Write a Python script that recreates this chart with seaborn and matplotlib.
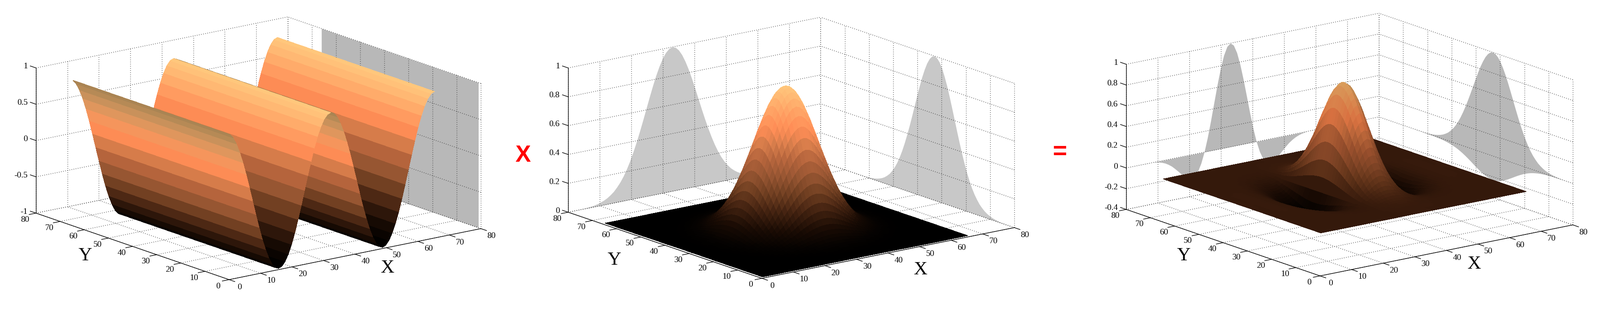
import numpy as np
import matplotlib
matplotlib.use("Agg")
import matplotlib.pyplot as plt
import seaborn as sns
from mpl_toolkits.mplot3d import proj3d

W, H = 3648, 705

# profiles, 64 samples spread over X (or Y) = 1..66
grid_pos = np.linspace(1, 66, 64)
wave_profile = np.array([
    0.981, 0.924, 0.831, 0.707, 0.556, 0.383, 0.195, 0.0,
    -0.195, -0.383, -0.556, -0.707, -0.831, -0.924, -0.981, -1.0,
    -0.981, -0.924, -0.831, -0.707, -0.556, -0.383, -0.195, 0.0,
    0.195, 0.383, 0.556, 0.707, 0.831, 0.924, 0.981, 1.0,
    0.981, 0.924, 0.831, 0.707, 0.556, 0.383, 0.195, 0.0,
    -0.195, -0.383, -0.556, -0.707, -0.831, -0.924, -0.981, -1.0,
    -0.981, -0.924, -0.831, -0.707, -0.556, -0.383, -0.195, 0.0,
    0.195, 0.383, 0.556, 0.707, 0.831, 0.924, 0.981, 1.0,
])
bump_profile = np.array([
    0.001, 0.001, 0.001, 0.002, 0.003, 0.005, 0.008, 0.011,
    0.016, 0.023, 0.032, 0.044, 0.060, 0.079, 0.105, 0.135,
    0.172, 0.216, 0.267, 0.325, 0.389, 0.458, 0.531, 0.607,
    0.682, 0.755, 0.823, 0.882, 0.932, 0.969, 0.992, 1.0,
    0.992, 0.969, 0.932, 0.882, 0.823, 0.755, 0.682, 0.607,
    0.531, 0.458, 0.389, 0.325, 0.267, 0.216, 0.172, 0.135,
    0.105, 0.079, 0.060, 0.044, 0.032, 0.023, 0.016, 0.011,
    0.008, 0.005, 0.003, 0.002, 0.001, 0.001, 0.001, 0.0,
])

xy_ticks = [0, 10, 20, 30, 40, 50, 60, 70, 80]
z_ticks_wave = [-1, -0.5, 0, 0.5, 1]
z_labels_wave = ["-1", "-0.5", "0", "0.5", "1"]
z_ticks_bump = [0, 0.2, 0.4, 0.6, 0.8, 1]
z_labels_bump = ["0", "0.2", "0.4", "0.6", "0.8", "1"]
z_ticks_prod = [-0.4, -0.2, 0, 0.2, 0.4, 0.6, 0.8, 1]
z_labels_prod = ["-0.4", "-0.2", "0", "0.2", "0.4", "0.6", "0.8", "1"]

# copper-like colours picked from the bands of the first surface
band_colors = ["#000000", "#1b0c04", "#442311", "#703f21", "#965532", "#b4643c",
               "#d77d4b", "#ff8d56", "#ff9f62", "#ffb571", "#ffc87d"]

sns.set_theme(style="white")
plt.rcParams["font.family"] = ["Liberation Serif", "DejaVu Serif"]
surface_cmap = sns.blend_palette(band_colors, as_cmap=True)

fig = plt.figure(figsize=(W / 100, H / 100), dpi=100)


def surface_colors(Z, mode):
    t = (Z - Z.min()) / (Z.max() - Z.min())
    rgba = surface_cmap(t)
    dzdx = np.diff(Z, axis=1, append=Z[:, -1:])
    if mode == "wave":
        # falling side of each ridge is duller only near the top
        shade = 1 - 0.35 * np.clip((t - 0.72) / 0.28, 0, 1) ** 1.4 * (dzdx < 0)
        rgba[..., :3] *= shade[..., None]
    elif mode == "prod":
        shade = np.clip(1 - 4.0 * np.clip(-dzdx, 0, None), 0.4, 1)
        rgba[..., :3] *= shade[..., None] * np.array([0.85, 0.8, 0.75])
    return rgba


def place_axes(ax, front, left, right, top, zlim):
    # stretch the 3d box so its corners land on the wanted pixels
    M = ax.get_proj()
    z0, z1 = zlim
    fx, fy, _ = proj3d.proj_transform(0, 0, z0, M)
    lx, ly, _ = proj3d.proj_transform(0, 80, z0, M)
    rx, ry, _ = proj3d.proj_transform(80, 0, z0, M)
    tx, ty, _ = proj3d.proj_transform(0, 80, z1, M)
    vl, vr = ax.viewLim.intervalx
    vb, vt = ax.viewLim.intervaly
    width = (right[0] - left[0]) / (rx - lx) * (vr - vl)
    x0 = left[0] - width * (lx - vl) / (vr - vl)
    height = ((H - top[1]) - (H - front[1])) / (ty - fy) * (vt - vb)
    y0 = (H - front[1]) - height * (fy - vb) / (vt - vb)
    ax.set_position([x0 / W, y0 / H, width / W, height / H])


def tick_text(ax, x, y, z, label, dx, dy, ha="center"):
    # tick labels sit a fixed number of pixels away from the projected tick
    vx, vy, _ = proj3d.proj_transform(x, y, z, ax.get_proj())
    px, py = ax.transData.transform((vx, vy))
    fig.text((px + dx) / W, (py + dy) / H, label, ha=ha, va="center",
             fontsize=14, color="black")


def draw_panel(Z, mode, zlim, zticks, zlabels, wall_color, left_wall,
               front, left, right, top, x_pos, y_pos):
    ax = fig.add_axes([0, 0, 1, 1], projection="3d", computed_zorder=False)
    ax.apply_aspect = lambda position=None: None
    ax.set_proj_type("ortho")
    ax.view_init(elev=30, azim=-127.5)
    ax.set_box_aspect((1, 1, 1))
    ax.set_xlim(0, 80, view_margin=0)
    ax.set_ylim(0, 80, view_margin=0)
    ax.set_zlim(zlim[0], zlim[1], view_margin=0)
    ax.set_axis_off()
    ax.patch.set_visible(False)
    place_axes(ax, front, left, right, top, zlim)

    z0, z1 = zlim

    # shadows on the back walls
    ax.fill_between(80, grid_pos, Z.max(axis=1), 80, grid_pos, Z.min(axis=1),
                    mode="polygon", facecolors=wall_color, shade=False,
                    linewidths=0, zorder=1)
    if left_wall:
        ax.fill_between(grid_pos, 80, Z.max(axis=0), grid_pos, 80, Z.min(axis=0),
                        mode="polygon", facecolors=wall_color, shade=False,
                        linewidths=0, zorder=1)

    # dotted box grid
    grid_kw = dict(color="#3c3c3c", lw=1.0, ls=(0, (1, 2.5)), zorder=2)
    for v in xy_ticks:
        ax.plot([v, v], [0, 80], [z0, z0], **grid_kw)
        ax.plot([0, 80], [v, v], [z0, z0], **grid_kw)
        ax.plot([v, v], [80, 80], [z0, z1], **grid_kw)
        ax.plot([80, 80], [v, v], [z0, z1], **grid_kw)
    for v in zticks:
        ax.plot([0, 80], [80, 80], [v, v], **grid_kw)
        ax.plot([80, 80], [0, 80], [v, v], **grid_kw)

    X, Y = np.meshgrid(grid_pos, grid_pos)
    ax.plot_surface(X, Y, Z, rstride=1, cstride=1, facecolors=surface_colors(Z, mode),
                    shade=False, antialiased=False, linewidth=0.2, zorder=3)

    # solid axes, ticks and labels
    line_kw = dict(color="black", lw=1.0, zorder=4)
    ax.plot([0, 80], [0, 0], [z0, z0], **line_kw)
    ax.plot([0, 0], [0, 80], [z0, z0], **line_kw)
    ax.plot([0, 0], [80, 80], [z0, z1], **line_kw)
    for v in xy_ticks:
        ax.plot([v, v], [0, -2.4], [z0, z0], **line_kw)
        ax.plot([0, -2.2], [v, v], [z0, z0], **line_kw)
        tick_text(ax, v, 0, z0, str(v), 24, -17)
        tick_text(ax, 0, v, z0, str(v), -25, -15)
    for v, lab in zip(zticks, zlabels):
        ax.plot([0, 0], [80, 82.4], [v, v], **line_kw)
        tick_text(ax, 0, 80, v, lab, -19, 3, ha="right")

    fig.text(x_pos[0] / W, 1 - x_pos[1] / H, "X", ha="center", va="center",
             fontsize=31, color="black")
    fig.text(y_pos[0] / W, 1 - y_pos[1] / H, "Y", ha="center", va="center",
             fontsize=31, color="black")


Z_wave = np.outer(np.ones(64), wave_profile)
Z_bump = np.outer(bump_profile, bump_profile)
Z_prod = np.outer(bump_profile, bump_profile * wave_profile)

draw_panel(Z_wave, "wave", (-1, 1), z_ticks_wave, z_labels_wave, "#b8b8b8", False,
           (523, 638), (82, 486.5), (1096, 522), (82, 155), (884, 612), (194, 584))
draw_panel(Z_bump, "bump", (0, 1), z_ticks_bump, z_labels_bump, "#c8c8c8", True,
           (1738, 635), (1295, 485.6), (2312, 521.6), (1295, 155), (2099, 616), (1400, 593.5))
draw_panel(Z_prod, "prod", (-0.4, 1), z_ticks_prod, z_labels_prod, "#b8b8b8", True,
           (3008, 629.5), (2567, 477.5), (3585, 512.6), (2567, 146.6), (3361, 603), (2698, 584))

fig.text(1192 / W, 1 - 355 / H, "X", ha="center", va="center", color="red",
         fontsize=38, fontweight="bold", family=["Liberation Sans", "DejaVu Sans"])
fig.text(2416 / W, 1 - 348 / H, "=", ha="center", va="center", color="red",
         fontsize=40, fontweight="bold", family=["Liberation Sans", "DejaVu Sans"])

fig.savefig("out.png", dpi=100, facecolor="white")
